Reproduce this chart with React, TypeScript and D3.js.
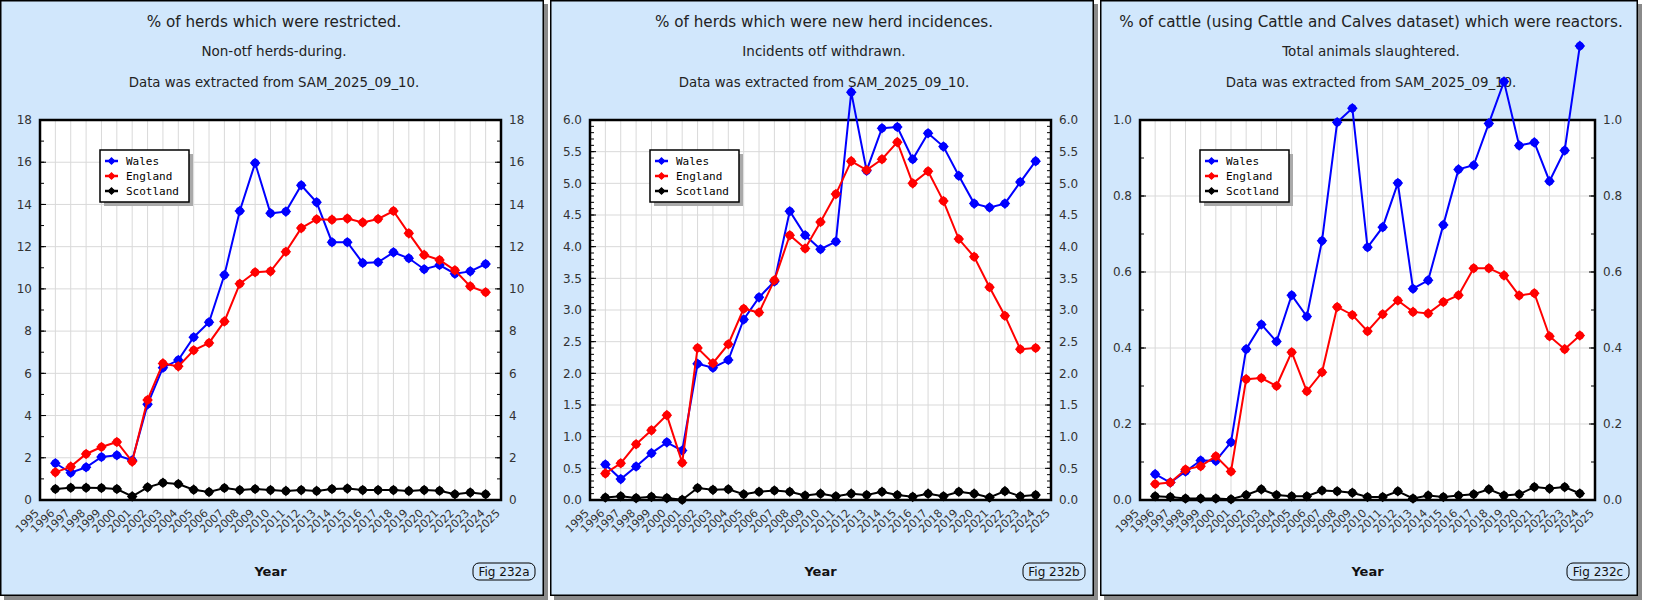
import { useEffect, useRef } from 'react'
import * as d3 from 'd3'

// data years (points) and axis years (labels)
const years = d3.range(1996, 2025)
const axisYears = d3.range(1995, 2026)
const seriesNames = ['Wales', 'England', 'Scotland']
const seriesColors = ['#0000ff', '#ff0000', '#000000']

const walesRestricted = [1.74, 1.29, 1.55, 2.04, 2.12, 1.88, 4.53, 6.27, 6.63, 7.71, 8.42, 10.66, 13.69, 15.96, 13.58, 13.66, 14.91, 14.1, 12.21, 12.21, 11.23, 11.26, 11.73, 11.45, 10.93, 11.13, 10.72, 10.83, 11.18]
const englandRestricted = [1.31, 1.58, 2.18, 2.51, 2.75, 1.82, 4.74, 6.47, 6.33, 7.09, 7.44, 8.46, 10.24, 10.79, 10.83, 11.76, 12.88, 13.3, 13.28, 13.33, 13.15, 13.31, 13.69, 12.63, 11.61, 11.37, 10.88, 10.12, 9.84]
const scotlandRestricted = [0.52, 0.58, 0.58, 0.57, 0.52, 0.17, 0.6, 0.82, 0.76, 0.49, 0.38, 0.57, 0.47, 0.52, 0.47, 0.43, 0.47, 0.43, 0.52, 0.54, 0.47, 0.47, 0.47, 0.43, 0.47, 0.44, 0.27, 0.35, 0.27]

const walesIncidence = [0.56, 0.33, 0.53, 0.74, 0.91, 0.78, 2.15, 2.09, 2.21, 2.85, 3.2, 3.45, 4.56, 4.18, 3.96, 4.08, 6.44, 5.2, 5.87, 5.89, 5.38, 5.79, 5.58, 5.12, 4.68, 4.62, 4.68, 5.02, 5.35]
const englandIncidence = [0.42, 0.58, 0.88, 1.1, 1.34, 0.59, 2.4, 2.16, 2.46, 3.02, 2.96, 3.47, 4.18, 3.97, 4.39, 4.83, 5.35, 5.21, 5.38, 5.65, 5.0, 5.19, 4.72, 4.12, 3.84, 3.36, 2.91, 2.38, 2.4]
const scotlandIncidence = [0.04, 0.06, 0.03, 0.05, 0.03, 0.005, 0.19, 0.16, 0.17, 0.09, 0.13, 0.15, 0.13, 0.07, 0.1, 0.06, 0.1, 0.08, 0.13, 0.08, 0.05, 0.1, 0.06, 0.13, 0.1, 0.04, 0.14, 0.06, 0.08]

const walesReactors = [0.068, 0.046, 0.075, 0.104, 0.103, 0.152, 0.397, 0.462, 0.417, 0.539, 0.483, 0.682, 0.994, 1.031, 0.665, 0.718, 0.834, 0.556, 0.578, 0.724, 0.87, 0.881, 0.991, 1.101, 0.933, 0.941, 0.839, 0.92, 1.195]
const englandReactors = [0.042, 0.046, 0.08, 0.089, 0.115, 0.075, 0.318, 0.321, 0.3, 0.389, 0.286, 0.336, 0.508, 0.487, 0.444, 0.489, 0.525, 0.495, 0.491, 0.521, 0.539, 0.61, 0.61, 0.591, 0.538, 0.544, 0.431, 0.397, 0.433]
const scotlandReactors = [0.01, 0.008, 0.004, 0.004, 0.004, 0.002, 0.013, 0.028, 0.013, 0.01, 0.01, 0.025, 0.023, 0.019, 0.008, 0.008, 0.023, 0.004, 0.012, 0.008, 0.012, 0.015, 0.028, 0.012, 0.015, 0.034, 0.03, 0.034, 0.017]

const titles = [
  '% of herds which were restricted.',
  '% of herds which were new herd incidences.',
  '% of cattle (using Cattle and Calves dataset) which were reactors.',
]
const subtitles = ['Non-otf herds-during.', 'Incidents otf withdrawn.', 'Total animals slaughtered.']
const sourceNote = 'Data was extracted from SAM_2025_09_10.'
const figLabels = ['Fig 232a', 'Fig 232b', 'Fig 232c']
const yMaxes = [18, 6, 1]
const yMajor = [2, 0.5, 0.2]
const yMinor = [1, 0.1, 0.1]
const yDecimals = [0, 1, 1]

type Panel = { title: string; subtitle: string; fig: string; values: number[][]; yMax: number; major: number; minor: number; dec: number }

const panels: Panel[] = [
  [walesRestricted, englandRestricted, scotlandRestricted],
  [walesIncidence, englandIncidence, scotlandIncidence],
  [walesReactors, englandReactors, scotlandReactors],
].map((values, i) => ({
  title: titles[i], subtitle: subtitles[i], fig: figLabels[i], values,
  yMax: yMaxes[i], major: yMajor[i], minor: yMinor[i], dec: yDecimals[i],
}))

const W = 1660
const H = 610
const BG = '#d1e7fc'
const FONT = '"DejaVu Sans", Verdana, sans-serif'

export default function App() {
  const ref = useRef<SVGSVGElement | null>(null)
  useEffect(() => {
    const svg = d3.select(ref.current)
    svg.selectAll('*').remove()
    svg.attr('width', W).attr('height', H)

    const panelLefts = [0, 550, 1100]
    const panelWidths = [544, 544, 538]
    const panelH = 596
    const margin = { top: 120, left: 40, right: 43 }
    const plotH = 380

    panels.forEach((p, pi) => {
      const pw = panelWidths[pi]
      const g = svg.append('g').attr('transform', `translate(${panelLefts[pi]},0)`)
      // shadow + panel
      g.append('rect').attr('x', 4).attr('y', 4).attr('width', pw).attr('height', panelH).attr('fill', '#8a8a8a')
      g.append('rect').attr('x', 0.75).attr('y', 0.75).attr('width', pw - 1.5).attr('height', panelH - 1.5)
        .attr('fill', BG).attr('stroke', '#000').attr('stroke-width', 1.5)

      // titles
      g.append('text').attr('x', pw / 2 + 2).attr('y', 27).attr('text-anchor', 'middle')
        .attr('font-family', FONT).attr('font-size', 15.2).attr('fill', '#222').text(p.title)
      g.append('text').attr('x', pw / 2 + 2).attr('y', 56).attr('text-anchor', 'middle')
        .attr('font-family', FONT).attr('font-size', 13.5).attr('fill', '#222').text(p.subtitle)
      g.append('text').attr('x', pw / 2 + 2).attr('y', 87).attr('text-anchor', 'middle')
        .attr('font-family', FONT).attr('font-size', 13.3).attr('fill', '#222').text(sourceNote)

      const innerW = pw - margin.left - margin.right
      const x = d3.scaleLinear().domain([1995, 2025]).range([0, innerW])
      const y = d3.scaleLinear().domain([0, p.yMax]).range([plotH, 0])

      const plot = g.append('g').attr('transform', `translate(${margin.left},${margin.top})`)
      plot.append('rect').attr('width', innerW).attr('height', plotH).attr('fill', '#fff')

      const majorTicks = d3.range(0, p.yMax + p.major / 2, p.major)
      const minorTicks = d3.range(0, p.yMax + p.minor / 2, p.minor)

      // grid
      plot.selectAll(null).data(axisYears).enter().append('line')
        .attr('x1', (d) => x(d)).attr('x2', (d) => x(d)).attr('y1', 0).attr('y2', plotH)
        .attr('stroke', '#d9d9d9').attr('stroke-width', 1)
      plot.selectAll(null).data(majorTicks).enter().append('line')
        .attr('x1', 0).attr('x2', innerW).attr('y1', (d) => y(d)).attr('y2', (d) => y(d))
        .attr('stroke', '#d9d9d9').attr('stroke-width', 1)

      // inward tick marks on both sides
      for (const side of [0, innerW]) {
        const dir = side === 0 ? 1 : -1
        plot.selectAll(null).data(minorTicks).enter().append('line')
          .attr('x1', side).attr('x2', side + dir * 4).attr('y1', (d) => y(d)).attr('y2', (d) => y(d))
          .attr('stroke', '#000').attr('stroke-width', 1)
        plot.selectAll(null).data(majorTicks).enter().append('line')
          .attr('x1', side).attr('x2', side + dir * 6).attr('y1', (d) => y(d)).attr('y2', (d) => y(d))
          .attr('stroke', '#000').attr('stroke-width', 1)
      }

      const fmt = d3.format(`.${p.dec}f`)
      plot.selectAll(null).data(majorTicks).enter().append('text')
        .attr('x', -8).attr('y', (d) => y(d)).attr('dy', '0.35em').attr('text-anchor', 'end')
        .attr('font-family', FONT).attr('font-size', 12).attr('fill', '#333').text((d) => fmt(d))
      plot.selectAll(null).data(majorTicks).enter().append('text')
        .attr('x', innerW + 8).attr('y', (d) => y(d)).attr('dy', '0.35em').attr('text-anchor', 'start')
        .attr('font-family', FONT).attr('font-size', 12).attr('fill', '#333').text((d) => fmt(d))

      // x labels
      plot.selectAll(null).data(axisYears).enter().append('text')
        .attr('transform', (d) => `translate(${x(d) - 3},${plotH + 11}) rotate(-45)`)
        .attr('text-anchor', 'end').attr('dy', '0.35em')
        .attr('font-family', FONT).attr('font-size', 11).attr('fill', '#333').text((d) => String(d))

      plot.append('rect').attr('width', innerW).attr('height', plotH).attr('fill', 'none')
        .attr('stroke', '#000').attr('stroke-width', 2.5)

      plot.append('text').attr('x', innerW / 2).attr('y', 456).attr('text-anchor', 'middle')
        .attr('font-family', FONT).attr('font-size', 13).attr('font-weight', 'bold').attr('fill', '#111').text('Year')

      // fig label
      g.append('rect').attr('x', pw - 71).attr('y', 563).attr('width', 62).attr('height', 17).attr('rx', 6)
        .attr('fill', BG).attr('stroke', '#000').attr('stroke-width', 1)
      g.append('text').attr('x', pw - 40).attr('y', 576).attr('text-anchor', 'middle')
        .attr('font-family', FONT).attr('font-size', 12).attr('fill', '#111').text(p.fig)

      // series
      const line = d3.line<number>().x((_, i) => x(years[i])).y((d) => y(d))
      const marker = (sel: any, color: string, r: number) => {
        sel.append('circle').attr('r', r).attr('fill', color)
        sel.append('path').attr('d', `M0,${-r - 1.3}L${r + 1.3},0L0,${r + 1.3}L${-r - 1.3},0Z`).attr('fill', color)
      }
      p.values.forEach((vals, si) => {
        const color = seriesColors[si]
        plot.append('path').datum(vals).attr('d', line).attr('fill', 'none').attr('stroke', color).attr('stroke-width', 2)
        vals.forEach((v, i) => {
          const m = plot.append('g').attr('transform', `translate(${x(years[i])},${y(v)})`)
          marker(m, color, 4)
        })
      })

      // legend
      const lg = plot.append('g').attr('transform', 'translate(60,30)')
      lg.append('rect').attr('x', 4).attr('y', 4).attr('width', 89).attr('height', 52).attr('fill', '#aaa')
      lg.append('rect').attr('width', 89).attr('height', 52).attr('fill', '#fff').attr('stroke', '#000').attr('stroke-width', 1.5)
      seriesNames.forEach((name, si) => {
        const cy = 11 + si * 15
        const color = seriesColors[si]
        lg.append('line').attr('x1', 5).attr('x2', 18).attr('y1', cy).attr('y2', cy).attr('stroke', color).attr('stroke-width', 2.5)
        const m = lg.append('g').attr('transform', `translate(11.5,${cy})`)
        marker(m, color, 2.6)
        lg.append('text').attr('x', 26).attr('y', cy).attr('dy', '0.35em')
          .attr('font-family', '"DejaVu Sans Mono", monospace').attr('font-size', 11).attr('fill', '#000').text(name)
      })
    })
  }, [])
  return (
    <div style={{ position: 'absolute', left: 0, top: 0 }}>
      <svg ref={ref} style={{ display: 'block' }} />
    </div>
  )
}
